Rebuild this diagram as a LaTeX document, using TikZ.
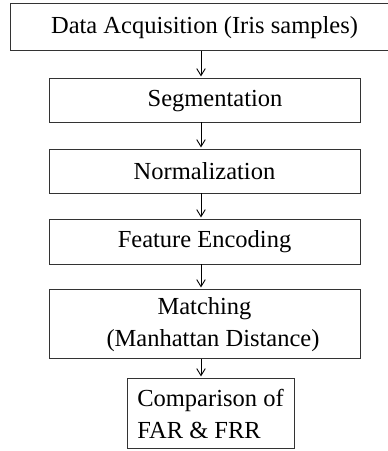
\documentclass[tikz,border=0pt]{standalone}
\usepackage{fontspec}
\setmainfont{Liberation Serif}
\usepackage{tikz}
\usetikzlibrary{arrows.meta,positioning}

\begin{document}
\begin{tikzpicture}[x=1pt,y=1pt,
  stage/.style={draw=black!80,line width=1pt,minimum width=311pt,align=center,
    font=\fontsize{24.5}{32}\selectfont,inner sep=0pt,outer sep=0pt},
  >={Straight Barb[length=7pt,width=8.5pt]}]
  \useasboundingbox (0,0) rectangle (388,-451);
  \node[stage,minimum width=389pt,minimum height=46.7pt] (acq) at (204.5,-27.3) {Data Acquisition (Iris samples)};
  \node[stage,minimum height=43.3pt,below=28.3pt of acq] (seg) {\hspace*{21pt}Segmentation};
  \node[stage,minimum height=43.3pt,below=27.7pt of seg] (norm) {Normalization};
  \node[stage,minimum height=44.3pt,below=26.7pt of norm] (enc) {Feature Encoding};
  \node[stage,minimum height=69pt,below=25.7pt of enc] (match) {Matching\\\hspace*{17pt}(Manhattan Distance)};
  \node[stage,minimum width=167pt,minimum height=70pt,align=left,below=20pt of match,xshift=6pt] (cmp) {Comparison of\\FAR \& FRR};
  % arrows between the stages
  \foreach \a/\b in {acq/seg,seg/norm,norm/enc,enc/match,match/cmp}
    \draw[->,black,line width=0.9pt,shorten >=2.5pt] ([xshift=-3.5pt]\a.south) -- ([xshift=-3.5pt]\a.south |- \b.north);
\end{tikzpicture}
\end{document}
